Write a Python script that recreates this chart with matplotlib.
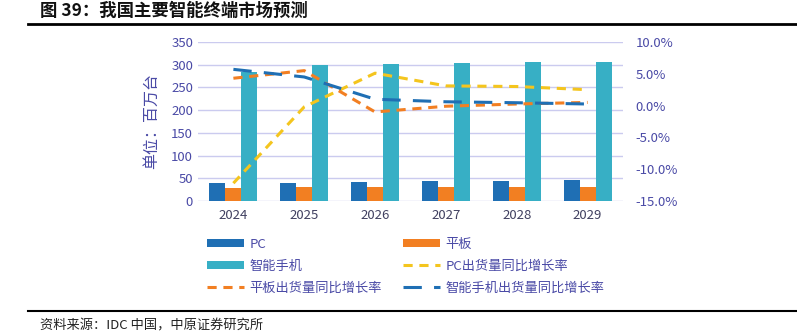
import matplotlib
matplotlib.use('Agg')
import matplotlib.pyplot as plt
import numpy as np
from matplotlib.lines import Line2D

plt.rcParams['font.family'] = ['Noto Sans CJK SC', 'DejaVu Sans']

# 数据
years = ['2024', '2025', '2026', '2027', '2028', '2029']
pc = [40, 40, 42, 43, 44, 46]
tablet = [29, 30, 30, 30, 30, 30]
phone = [285, 299, 301, 304, 305, 305]
pc_growth = [-12.2, -0.2, 5.1, 3.1, 3.0, 2.5]
tablet_growth = [4.3, 5.5, -1.0, -0.1, 0.25, 0.5]
phone_growth = [5.7, 4.5, 1.0, 0.6, 0.45, 0.25]

c_pc = '#1F6FB4'
c_tab = '#F27F22'
c_phone = '#37AFC5'
c_yel = '#F4C51E'
c_txt = '#4A4AA6'
c_grid = '#CBCBEF'

fig = plt.figure(figsize=(7.97, 3.36), dpi=100)
ax = fig.add_axes([0.2484, 0.4018, 0.5333, 0.4732])
x = np.arange(len(years))
w = 0.226

b1 = ax.bar(x - w, pc, w, color=c_pc, label='PC')
b2 = ax.bar(x, tablet, w, color=c_tab, label='平板')
b3 = ax.bar(x + w, phone, w, color=c_phone, label='智能手机')

ax.set_ylim(0, 350)
ax.set_yticks(range(0, 351, 50))
ax.set_xlim(-0.5, len(years) - 0.5)
ax.set_xticks(x)
ax.set_xticklabels(years)
ax.grid(axis='y', color=c_grid, lw=1)
ax.set_axisbelow(True)
for s in ax.spines.values():
    s.set_visible(False)
ax.tick_params(axis='both', length=0, labelsize=9.5, colors=c_txt)
ax.tick_params(axis='x', colors='#404060', pad=6)
ax.set_ylabel('单位：百万台', color=c_txt, fontsize=11.5, labelpad=8)

ax2 = ax.twinx()
l1, = ax2.plot(x, pc_growth, color=c_yel, lw=2.2, dashes=(3, 2.2), label='PC出货量同比增长率')
l2, = ax2.plot(x, tablet_growth, color=c_tab, lw=2.2, dashes=(3, 2.2), label='平板出货量同比增长率')
l3, = ax2.plot(x, phone_growth, color=c_pc, lw=2.2, dashes=(6, 4), label='智能手机出货量同比增长率')
ax2.set_ylim(-15, 10)
ax2.set_yticks(range(-15, 11, 5))
ax2.set_yticklabels(['%.1f%%' % v for v in range(-15, 11, 5)])
for s in ax2.spines.values():
    s.set_visible(False)
ax2.tick_params(axis='y', length=0, labelsize=9.5, colors=c_txt, pad=9)

handles = [b1, b3, l2, b2, l1, l3]
labels = ['PC', '智能手机', '平板出货量同比增长率', '平板', 'PC出货量同比增长率', '智能手机出货量同比增长率']
fig.legend(handles, labels, ncol=2, loc='upper left', bbox_to_anchor=(0.245, 0.328),
           frameon=False, fontsize=9.5, handlelength=2.8, handleheight=0.6,
           columnspacing=1.6, labelspacing=0.68, labelcolor=c_txt, handletextpad=0.4)

fig.text(0.05, 0.967, '图 39：我国主要智能终端市场预测', fontsize=12.5, fontweight='bold',
         va='center', ha='left', color='#111111')
fig.add_artist(Line2D([0.035, 1.0], [0.928, 0.928], color='black', lw=2))
fig.add_artist(Line2D([0.035, 1.0], [0.074, 0.074], color='black', lw=1.5))
fig.text(0.05, 0.03, '资料来源：IDC 中国，中原证券研究所', fontsize=9.5, va='center',
         ha='left', color='#222222')

fig.savefig('out.png', dpi=100)
